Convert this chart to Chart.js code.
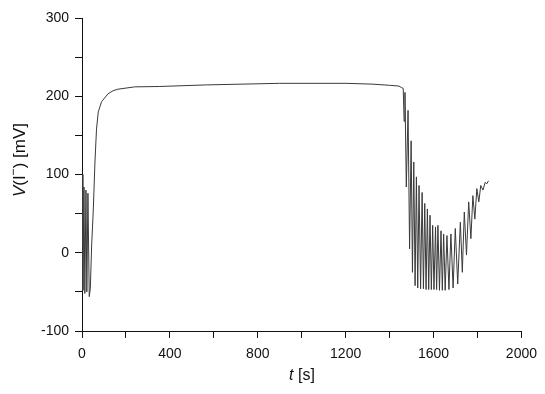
<!DOCTYPE html>
<html>
<head>
<meta charset="utf-8">
<script src="https://cdn.jsdelivr.net/npm/chart.js@4.4.0/dist/chart.umd.min.js"></script>
<style>
  html, body { margin: 0; padding: 0; background: #fff; }
  #wrap { width: 545px; height: 394px; }
</style>
</head>
<body>
<div id="wrap"><canvas id="chart"></canvas></div>
<script>
// time in seconds, potential in mV
const times = [
  0, 4, 9, 13, 18, 22, 27, 33, 38, 44, 51, 59, 66, 74, 89, 118, 141, 163, 240, 354,
  567, 898, 1202, 1320, 1400, 1442, 1455, 1462, 1466, 1470, 1476, 1484, 1491, 1498,
  1504, 1510, 1516, 1522, 1528, 1534, 1541, 1548, 1554, 1560, 1566, 1572, 1578, 1584,
  1590, 1596, 1602, 1609, 1614, 1620, 1627, 1634, 1640, 1646, 1653, 1661, 1670, 1679,
  1689, 1699, 1710, 1722, 1731, 1740, 1750, 1760, 1770, 1779, 1788, 1797, 1806, 1815,
  1825, 1835, 1842, 1850
];
const volts = [
  100, -48, 84, -52, 80, -50, 76, -56, -45, 10, 52, 116, 158, 180, 193, 203, 207, 209, 212, 212.5,
  214.5, 216.5, 216.5, 215.5, 214, 213, 211, 210, 168, 205, 84, 182, 5, 143,
  -25, 116, -42, 97, -45, 86, -46, 77, -46, 63, -47, 56, -47, 48,
  -47, 35, -47, 33, -47, 35, -48, 28, -48, 24, -48, 22, -47, 24,
  -45, 31, -40, 39, -25, 52, -3, 65, 18, 73, 43, 82, 65, 86,
  80, 90, 88, 92
];
const xLabels = [0, 400, 800, 1200, 1600, 2000];
const yLabels = [-100, 0, 100, 200, 300];

const FONT = '"Liberation Sans", Arial, Helvetica, sans-serif';

// draws the axis titles with italic symbols
const titlePlugin = {
  id: 'axisTitles',
  afterDraw(chart) {
    const ctx = chart.ctx;
    ctx.save();
    ctx.fillStyle = '#111';
    ctx.textBaseline = 'middle';

    function drawParts(parts, size) {
      let w = 0;
      parts.forEach(p => {
        ctx.font = (p.it ? 'italic ' : '') + (p.sup ? size * 0.7 : size) + 'px ' + FONT;
        p.w = ctx.measureText(p.t).width;
        w += p.w;
      });
      let x = -w / 2;
      parts.forEach(p => {
        ctx.font = (p.it ? 'italic ' : '') + (p.sup ? size * 0.7 : size) + 'px ' + FONT;
        ctx.textAlign = 'left';
        ctx.fillText(p.t, x, p.sup ? -size * 0.35 : 0);
        x += p.w;
      });
    }

    // x title
    ctx.translate(302, 376);
    drawParts([{ t: 't', it: true }, { t: ' [s]' }], 16);
    ctx.restore();

    // y title
    ctx.save();
    ctx.fillStyle = '#111';
    ctx.textBaseline = 'middle';
    ctx.translate(20, 160);
    ctx.rotate(-Math.PI / 2);
    drawParts([{ t: 'V', it: true }, { t: '(I' }, { t: '\u2212', sup: true }, { t: ') [mV]' }], 17);
    ctx.restore();
  }
};

new Chart(document.getElementById('chart'), {
  type: 'line',
  data: {
    datasets: [{
      data: times.map((t, i) => ({ x: t, y: volts[i] })),
      borderColor: '#3a3a3a',
      borderWidth: 1,
      pointRadius: 0,
      tension: 0,
      fill: false
    }]
  },
  options: {
    responsive: true,
    maintainAspectRatio: false,
    animation: false,
    layout: { padding: { top: 18, right: 22, left: 0, bottom: 0 } },
    plugins: { legend: { display: false }, tooltip: { enabled: false } },
    scales: {
      x: {
        type: 'linear',
        min: 0,
        max: 2000,
        afterFit(scale) { scale.height = 63; },
        border: { display: true, color: '#111', width: 1 },
        grid: { drawOnChartArea: false, tickLength: 7, color: '#111' },
        ticks: {
          stepSize: 200,
          maxRotation: 0,
          autoSkip: false,
          padding: 8,
          color: '#111',
          font: { family: FONT, size: 14 },
          callback: v => xLabels.includes(v) ? String(v) : ''
        }
      },
      y: {
        min: -100,
        max: 300,
        afterFit(scale) { scale.width = 82; },
        border: { display: true, color: '#111', width: 1 },
        grid: { drawOnChartArea: false, tickLength: 7, color: '#111' },
        ticks: {
          stepSize: 50,
          autoSkip: false,
          padding: 6,
          color: '#111',
          font: { family: FONT, size: 14 },
          callback: v => yLabels.includes(v) ? String(v) : ''
        }
      }
    }
  },
  plugins: [titlePlugin]
});
</script>
</body>
</html>
